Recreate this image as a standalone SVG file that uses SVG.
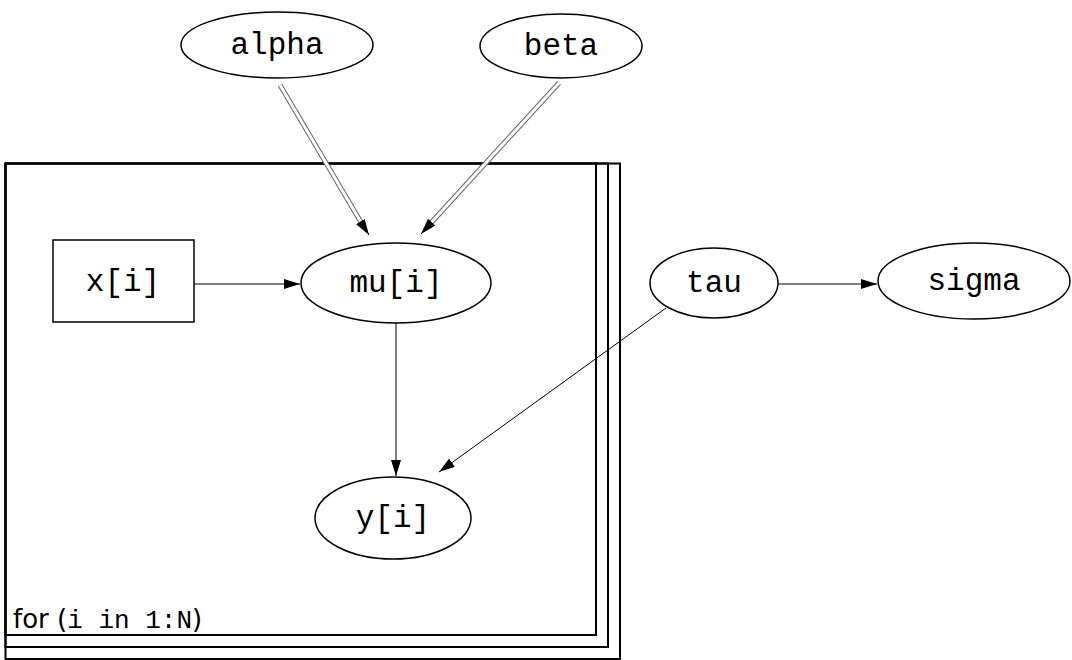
<svg xmlns="http://www.w3.org/2000/svg" width="1072" height="660" viewBox="0 0 1072 660">
<style>
.n{fill:#fff;stroke:#000;stroke-width:1.5}
.t{font-family:"Liberation Mono","DejaVu Sans Mono",monospace;font-size:31px;text-anchor:middle;dominant-baseline:central;fill:#000}
.e{stroke:#000;stroke-width:1;fill:none}
.dbo{stroke:#666;stroke-width:5;fill:none}
.dbi{stroke:#fff;stroke-width:3;fill:none}
.pl{fill:none;stroke:#000;stroke-width:2}
</style>
<defs>
<marker id="ah" viewBox="0 0 16 10" refX="16" refY="5" markerWidth="16" markerHeight="10" markerUnits="userSpaceOnUse" orient="auto">
<path d="M0,0 L16,5 L0,10 Z" fill="#000"/>
</marker>
</defs>
<rect width="1072" height="660" fill="#fff"/>
<g id="plate">
<rect class="pl" x="5.5" y="163.5" width="614.5" height="495.5"/>
<rect class="pl" x="5.5" y="163.5" width="602.5" height="483.5"/>
<rect class="pl" x="5.5" y="163.5" width="590.5" height="471.5"/>
<text x="13" y="628" font-family="'DejaVu Sans','Liberation Sans',sans-serif" font-size="26px">for (<tspan font-family="'Liberation Mono','DejaVu Sans Mono',monospace" font-size="26px">i in 1:N</tspan>)</text>
</g>
<g id="connectors">
<path class="dbo" d="M280,85 L362,224"/>
<path class="dbi" d="M280,85 L362,224"/>
<path d="M362,224 L369,235" class="e" marker-end="url(#ah)"/>
<path class="dbo" d="M559,83 L430,224"/>
<path class="dbi" d="M559,83 L430,224"/>
<path d="M430,224 L421,234" class="e" marker-end="url(#ah)"/>
<path class="e" d="M194,284 L300,284" marker-end="url(#ah)"/>
<path class="e" d="M396,323 L396,476" marker-end="url(#ah)"/>
<path class="e" d="M666,308 L439,472" marker-end="url(#ah)"/>
<path class="e" d="M778,284 L877,284" marker-end="url(#ah)"/>
</g>
<g id="alpha"><ellipse class="n" cx="277" cy="45" rx="96" ry="33"/><text class="t" x="277" y="45">alpha</text></g>
<g id="beta"><ellipse class="n" cx="561" cy="46" rx="81" ry="32"/><text class="t" x="561" y="46">beta</text></g>
<g id="x"><rect class="n" x="53" y="240" width="141" height="82"/><text class="t" x="123" y="282">x[i]</text></g>
<g id="mu"><ellipse class="n" cx="396" cy="283" rx="95" ry="40"/><text class="t" x="396" y="283">mu[i]</text></g>
<g id="tau"><ellipse class="n" cx="714" cy="283" rx="64" ry="35"/><text class="t" x="714" y="283">tau</text></g>
<g id="sigma"><ellipse class="n" cx="974" cy="281" rx="96" ry="38"/><text class="t" x="974" y="281">sigma</text></g>
<g id="y"><ellipse class="n" cx="393" cy="518" rx="78" ry="41"/><text class="t" x="393" y="518">y[i]</text></g>
</svg>
